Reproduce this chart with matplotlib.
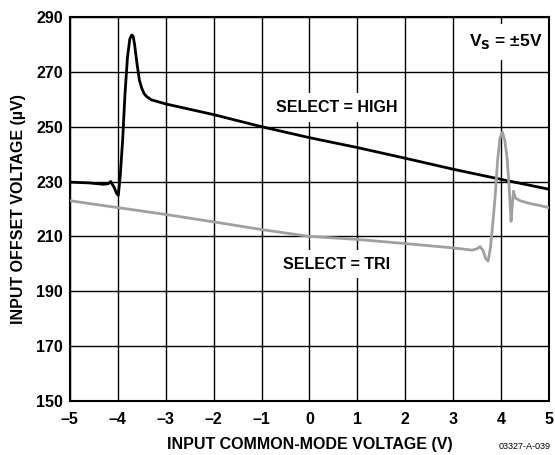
import matplotlib
matplotlib.use("Agg")
import matplotlib.pyplot as plt

plt.rcParams['font.family'] = ['Liberation Sans', 'DejaVu Sans']

# SELECT = HIGH (black)
high_x = [-5.0, -4.6, -4.3, -4.2, -4.15, -4.08, -4.02, -3.99, -3.95, -3.9, -3.85, -3.8,
          -3.75, -3.71, -3.68, -3.65, -3.6, -3.55, -3.5, -3.45, -3.4, -3.3, -3.0, -2.0,
          -1.0, 0.0, 1.0, 2.0, 3.0, 4.0, 5.0]
high_y = [229.8, 229.5, 229.0, 229.2, 230.0, 228.0, 225.5, 225.0, 232.0, 245.0, 262.0, 275.0,
          282.0, 283.4, 283.0, 280.0, 273.0, 267.0, 264.0, 262.0, 261.0, 259.8, 258.3, 254.4,
          250.0, 246.0, 242.4, 238.5, 234.5, 230.8, 227.2]

# SELECT = TRI (gray)
tri_x = [-5.0, -4.0, -3.0, -2.0, -1.0, 0.0, 1.0, 2.0, 3.0, 3.4, 3.5, 3.56, 3.62, 3.68, 3.73,
         3.78, 3.83, 3.88, 3.93, 3.98, 4.03, 4.08, 4.13, 4.17, 4.21, 4.23, 4.26, 4.3, 4.4,
         4.6, 4.8, 5.0]
tri_y = [223.0, 220.5, 218.0, 215.3, 212.5, 210.0, 208.9, 207.4, 205.8, 205.0, 205.5, 206.3,
         205.0, 202.0, 201.0, 206.0, 215.0, 225.0, 238.0, 246.0, 248.0, 245.0, 238.0, 228.0,
         215.5, 220.0, 226.5, 224.0, 223.0, 222.0, 221.3, 220.5]

x_ticks = [-5, -4, -3, -2, -1, 0, 1, 2, 3, 4, 5]
x_tick_labels = ['–5', '–4', '–3', '–2', '–1', '0', '1', '2', '3', '4', '5']
y_ticks = [150, 170, 190, 210, 230, 250, 270, 290]

fig = plt.figure(figsize=(5.55, 4.55), dpi=100)
ax = fig.add_axes([0.126, 0.1187, 0.863, 0.844])

ax.plot(high_x, high_y, color='black', lw=2.0, zorder=3, solid_joinstyle='round')
ax.plot(tri_x, tri_y, color='#a0a0a0', lw=2.0, zorder=3, solid_joinstyle='round')

ax.set_xlim(-5, 5)
ax.set_ylim(150, 290)
ax.set_xticks(x_ticks)
ax.set_xticklabels(x_tick_labels)
ax.set_yticks(y_ticks)
ax.grid(True, color='black', lw=1.0)
ax.tick_params(length=0, labelsize=11.5)
ax.tick_params(axis='x', pad=8)
ax.tick_params(axis='y', pad=5)
for lab in ax.get_xticklabels() + ax.get_yticklabels():
    lab.set_fontweight('bold')
for s in ax.spines.values():
    s.set_linewidth(1.5)

ax.set_xlabel('INPUT COMMON-MODE VOLTAGE (V)', fontsize=11.5, fontweight='bold', labelpad=7)
ax.set_ylabel('INPUT OFFSET VOLTAGE (µV)', fontsize=11.5, fontweight='bold', labelpad=7)

box = dict(facecolor='white', edgecolor='none', pad=5)
ax.text(0.57, 257.1, 'SELECT = HIGH', fontsize=11.5, fontweight='bold', ha='center',
        va='center', zorder=2.5, bbox=box)
ax.text(0.57, 199.9, 'SELECT = TRI', fontsize=11.5, fontweight='bold', ha='center',
        va='center', zorder=2.5, bbox=box)
ax.text(4.1, 280.9, r'V$_\mathbf{S}$ = ±5V', fontsize=12.5, fontweight='bold', ha='center',
        va='center', zorder=2.5, bbox=dict(facecolor='white', edgecolor='none', pad=6))

fig.text(0.992, 0.008, '03327-A-039', fontsize=6.5, ha='right', va='bottom')

fig.savefig('out.png', dpi=100)
